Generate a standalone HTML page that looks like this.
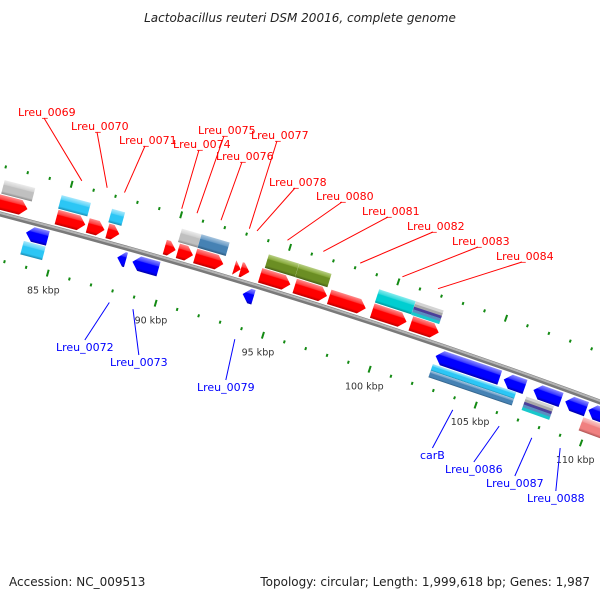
<!DOCTYPE html>
<html><head><meta charset="utf-8">
<style>
html,body{margin:0;padding:0;background:#fff;}
svg{display:block;font-family:"DejaVu Sans","Liberation Sans",sans-serif;}
</style></head>
<body>
<svg id="chart" width="600" height="600" viewBox="0 0 600 600" xmlns="http://www.w3.org/2000/svg">
<defs id="defs"></defs>
<text x="300" y="22" text-anchor="middle" font-size="12" font-style="italic" fill="#222">Lactobacillus reuteri DSM 20016, complete genome</text>
<g id="ticks"></g>
<g id="axis"></g>
<g id="genes"></g>
<g id="callouts"></g>
<text x="9" y="586" font-size="12" fill="#222">Accession: NC_009513</text>
<text x="590" y="586" text-anchor="end" font-size="12" fill="#222">Topology: circular; Length: 1,999,618 bp; Genes: 1,987</text>
</svg>
<script>
// ---- data (kbp) ----
const topCdsStart = [81.5, 84.73, 86.16, 87.06, 89.7, 90.3, 91.1, 92.9, 93.2, 94.1, 95.7, 97.3, 99.3, 101.1];
const topCdsEnd   = [83.4, 86.05, 86.93, 87.61, 90.2, 91.0, 92.4, 93.2, 93.6, 95.5, 97.2, 99.0, 100.9, 102.4];
const topFeatStart = [82.1, 84.7, 87.0, 90.2, 91.1, 94.2, 95.6, 99.3, 101.0];
const topFeatEnd   = [83.5, 86.04, 87.6, 91.1, 92.4, 95.6, 97.1, 101.0, 102.3];
const topFeatType  = ["gray", "sky", "sky", "gray", "steel", "olive", "olive", "turq", "striped"];
const botCdsStart = [83.6, 87.8, 88.5, 93.6, 102.6, 105.8, 107.2, 108.7, 109.8];
const botCdsEnd   = [84.6, 88.2, 89.7, 94.1, 105.6, 106.8, 108.5, 109.7, 111.2];
const botFeatStart = [83.6, 102.6, 107.0, 109.7];
const botFeatEnd   = [84.6, 106.5, 108.3, 111.5];
const botFeatType  = ["sky", "skysteel", "striped", "pink"];
const tickKbp = [80,81,82,83,84,85,86,87,88,89,90,91,92,93,94,95,96,97,98,99,100,101,102,103,104,105,106,107,108,109,110,111,112];
const tickLabelKbp = [85, 90, 95, 100, 105, 110];
const tickLabelText = ["85 kbp","90 kbp","95 kbp","100 kbp","105 kbp","110 kbp"];
const topLabels = ["Lreu_0069","Lreu_0070","Lreu_0071","Lreu_0074","Lreu_0075","Lreu_0076","Lreu_0077","Lreu_0078","Lreu_0080","Lreu_0081","Lreu_0082","Lreu_0083","Lreu_0084"];
const topLabelGene = [1,2,3,4,5,6,7,8,9,10,11,12,13];
const botLabels = ["Lreu_0072","Lreu_0073","Lreu_0079","carB","Lreu_0086","Lreu_0087","Lreu_0088"];
const botLabelGene = [1,2,3,4,5,6,7];
// ---- layout ----
const topLabelPos = [[18,116],[71,130],[119,144],[173,148],[198,134],[216,160],[251,139],[269,186],[316,200],[362,215],[407,230],[452,245],[496,260]];
const botLabelPos = [[56,351],[110,366],[197,391],[420,459],[445,473],[486,487],[527,502]];

const NS = "http://www.w3.org/2000/svg";
const R = 6200, SCALE = 22.56;
const P1 = [0,214], P2 = [600,402];
const dx = P2[0]-P1[0], dy = P2[1]-P1[1], d = Math.hypot(dx,dy);
const hh = Math.sqrt(R*R - (d/2)*(d/2));
const Cx = (P1[0]+P2[0])/2 + hh*(-dy/d), Cy = (P1[1]+P2[1])/2 + hh*(dx/d);
const a0 = Math.atan2(P1[1]-Cy, P1[0]-Cx);
function alpha(k){ return a0 + (61.5 + (k-85)*SCALE)/R; }
function pt(k, off){ const a = alpha(k); return [Cx+(R+off)*Math.cos(a), Cy+(R+off)*Math.sin(a)]; }
function mk(tag, attrs, parent){ const e = document.createElementNS(NS, tag); for (const k in attrs) e.setAttribute(k, attrs[k]); parent.appendChild(e); return e; }

const defs = document.getElementById('defs');
const palettes = {
  red:["#ff8a8a","#ff3a3a","#ff0000","#b80000"],
  blue:["#8a8aff","#3a3aff","#0000ff","#0000a8"],
  sky:["#a8e8fc","#5ad4f9","#2cc6f5","#1a8ab0"],
  gray:["#ececec","#d2d2d2","#c0c0c0","#888888"],
  steel:["#a6c4de","#6c9dc7","#4682b4","#2c5a80"],
  olive:["#b8cf84","#88aa3c","#6b8e23","#465e16"],
  turq:["#86ecee","#34dadc","#00ced1","#009296"],
  pink:["#f9c8c8","#f49c9c","#f08080","#b05656"]
};
for (const name in palettes){
  const c = palettes[name];
  const g = mk('linearGradient',{id:'g-'+name,x1:0,y1:0,x2:0,y2:1},defs);
  [[0,c[0]],[0.3,c[1]],[0.36,c[2]],[0.8,c[2]],[1,c[3]]].forEach(s=>mk('stop',{offset:s[0],'stop-color':s[1]},g));
}

// axis backbone
const axisG = document.getElementById('axis');
function arcPath(off){ const s=pt(76,off), e=pt(116,off); return `M${s[0]},${s[1]} A${R+off},${R+off} 0 0 1 ${e[0]},${e[1]}`; }
const ax1 = mk('path',{d:arcPath(0),fill:'none',stroke:'#7a7a7a','stroke-width':5},axisG);


const ax2 = mk('path',{d:arcPath(1),fill:'none',stroke:'#b4b4b4','stroke-width':2},axisG);



// ticks
const tickG = document.getElementById('ticks');
[47,-45].forEach(row=>{
  tickKbp.forEach(k=>{
    const big = (k%5===0);
    const len = big?3.5:1.5;
    const a = pt(k,row-len), b = pt(k,row+len);
    const t = mk('line',{x1:a[0],y1:a[1],x2:b[0],y2:b[1],stroke:'#138a13','stroke-width':2},tickG);
    
    
  });
});
tickLabelKbp.forEach((k,i)=>{
  const p = pt(k,-62);
  const t = mk('text',{x:p[0],y:p[1]+4,'text-anchor':'middle','font-size':9.5,fill:'#333'},tickG);
  t.textContent = tickLabelText[i];
  
  
});

// genes
const geneG = document.getElementById('genes');
function frame(k1,k2,dTop,dBot){
  const a = alpha(k1), p = pt(k1,dTop);
  return {x:p[0],y:p[1],rot:a*180/Math.PI+90,L:(k2-k1)*SCALE,H:dTop-dBot};
}
function arrow(k1,k2,dTop,dBot,dir,color,name){
  const f = frame(k1,k2,dTop,dBot), L=f.L, H=f.H, tip=Math.min(7,L);
  const pts = dir>0 ? [[0,0],[L-tip,0],[L,H/2],[L-tip,H],[0,H]] : [[tip,0],[L,0],[L,H],[tip,H],[0,H/2]];
  const e = mk('polygon',{points:pts.map(q=>q.join(',')).join(' '),fill:'url(#g-'+color+')',transform:`translate(${f.x},${f.y}) rotate(${f.rot})`},geneG);
  
  
}
function feature(k1,k2,dTop,dBot,type,name){
  const f = frame(k1,k2,dTop,dBot);
  const g = mk('g',{transform:`translate(${f.x},${f.y}) rotate(${f.rot})`},geneG);
  
  
  if (type==='striped'){
    const cols=['#d4d4d4','#a8a8a8','#4b3f9a','#5a8ec0','#19c8cc'];
    cols.forEach((c,i)=>mk('rect',{x:0,y:i*f.H/5,width:f.L,height:f.H/5+0.3,fill:c},g));
  } else if (type==='skysteel'){
    mk('rect',{x:0,y:0,width:f.L,height:f.H/2,fill:'url(#g-sky)'},g);
    mk('rect',{x:0,y:f.H/2,width:f.L,height:f.H/2,fill:'url(#g-steel)'},g);
  } else {
    mk('rect',{x:0,y:0,width:f.L,height:f.H,fill:'url(#g-'+type+')'},g);
  }
}
topFeatStart.forEach((s,i)=>feature(s,topFeatEnd[i],34,20,topFeatType[i],'top-feature-'+i));
topCdsStart.forEach((s,i)=>arrow(s,topCdsEnd[i],19,4,1,'red','forward-cds-'+i));
botCdsStart.forEach((s,i)=>arrow(s,botCdsEnd[i],-4,-19,-1,'blue','reverse-cds-'+i));
botFeatStart.forEach((s,i)=>feature(s,botFeatEnd[i],-20,-34,botFeatType[i],'bottom-feature-'+i));

// callouts
const cg = document.getElementById('callouts');
topLabels.forEach((lab,i)=>{
  const gi = topLabelGene[i];
  const mid = (topCdsStart[gi]+topCdsEnd[gi])/2;
  const e = pt(mid,53), lp = topLabelPos[i];
  const ln = mk('line',{x1:lp[0]+26,y1:lp[1]+2,x2:e[0],y2:e[1],stroke:'#ff0000','stroke-width':1},cg);
  
  
  const t = mk('text',{x:lp[0],y:lp[1],'font-size':11,fill:'#ff0000'},cg);
  t.textContent = lab;
  
  
});
botLabels.forEach((lab,i)=>{
  const gi = botLabelGene[i];
  const mid = (botCdsStart[gi]+botCdsEnd[gi])/2;
  const e = pt(mid,-57), lp = botLabelPos[i];
  const t = mk('text',{x:lp[0],y:lp[1],'font-size':11,fill:'#0000ff'},cg);
  t.textContent = lab;
  
  
  let w = 50; try { w = t.getComputedTextLength(); } catch(err){}
  const ln = mk('line',{x1:lp[0]+w/2,y1:lp[1]-11,x2:e[0],y2:e[1],stroke:'#0000ff','stroke-width':1},cg);
  
  
});
</script>
</body></html>
